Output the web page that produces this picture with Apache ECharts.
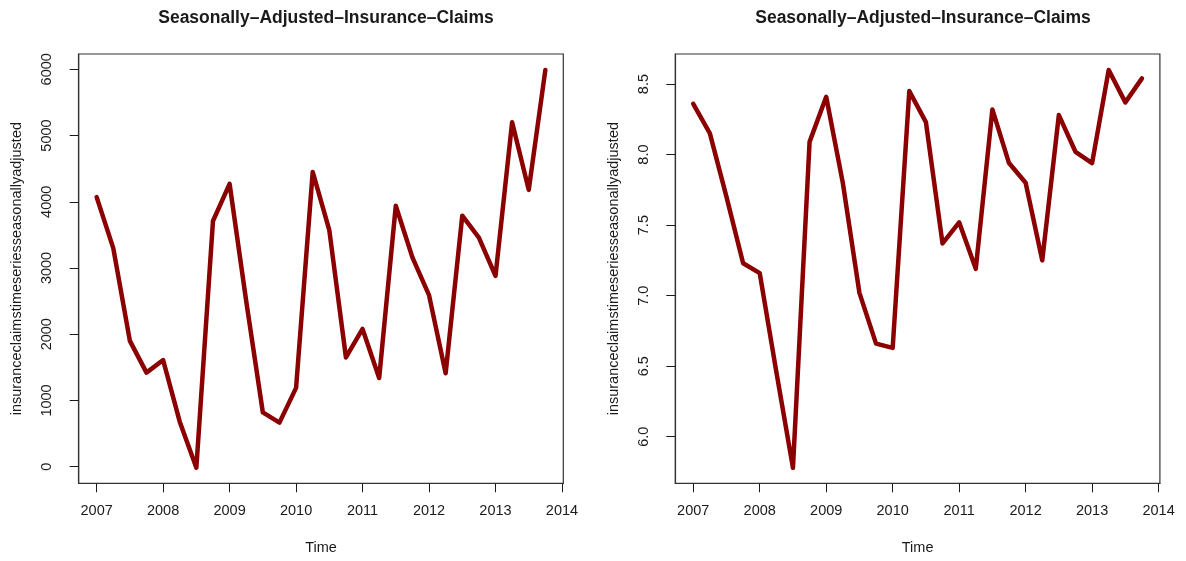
<!DOCTYPE html>
<html>
<head>
<meta charset="utf-8">
<script src="https://cdn.jsdelivr.net/npm/echarts@6/dist/echarts.min.js"></script>
<style>
  html, body { margin: 0; padding: 0; background: #fff; }
  #main { width: 1186px; height: 561px; }
</style>
</head>
<body>
<div id="main"></div>
<script>
// quarterly time points
var quarters = [2007, 2007.25, 2007.5, 2007.75, 2008, 2008.25, 2008.5, 2008.75,
    2009, 2009.25, 2009.5, 2009.75, 2010, 2010.25, 2010.5, 2010.75,
    2011, 2011.25, 2011.5, 2011.75, 2012, 2012.25, 2012.5, 2012.75,
    2013, 2013.25, 2013.5, 2013.75];
var claimsAdjusted = [4070, 3300, 1900, 1420, 1610, 680, -15, 3710,
    4270, 2500, 820, 665, 1190, 4450, 3570, 1650,
    2080, 1340, 3940, 3160, 2590, 1410, 3790, 3460,
    2880, 5200, 4180, 5990];
var logClaimsAdjusted = [8.36, 8.15, 7.70, 7.23, 7.16, 6.46, 5.78, 8.09,
    8.41, 7.80, 7.02, 6.66, 6.63, 8.45, 8.23, 7.37,
    7.52, 7.19, 8.32, 7.94, 7.80, 7.25, 8.28, 8.02,
    7.94, 8.60, 8.37, 8.54];
var yearTicks = [2007, 2008, 2009, 2010, 2011, 2012, 2013, 2014];
var leftTicks = [0, 1000, 2000, 3000, 4000, 5000, 6000];
var rightTicks = [6.0, 6.5, 7.0, 7.5, 8.0, 8.5];

var titleText = 'Seasonally\u2013Adjusted\u2013Insurance\u2013Claims';
var yName = 'insuranceclaimstimeseriesseasonallyadjusted';
var font = "'Liberation Sans', Arial, sans-serif";
var ink = '#1a1a1a';

function pairs(xs, ys) {
    var out = [];
    for (var i = 0; i < xs.length; i++) out.push([xs[i], ys[i]]);
    return out;
}

function xAxisFor(idx) {
    return {
        gridIndex: idx,
        type: 'value',
        min: 2006.73,
        max: 2014.02,
        splitLine: { show: false },
        axisLine: { show: true, onZero: false, lineStyle: { color: '#333', width: 1.2 } },
        axisTick: { show: true, customValues: yearTicks, length: 9, lineStyle: { color: ink, width: 1 } },
        axisLabel: {
            customValues: yearTicks, color: ink, fontSize: 14.5, fontFamily: font, margin: 20,
            formatter: function (v) { return String(v); }
        },
        name: 'Time',
        nameLocation: 'middle',
        nameGap: 57,
        nameTextStyle: { color: ink, fontSize: 14.5, fontFamily: font }
    };
}

function yAxisFor(idx, lo, hi, ticks, digits) {
    return {
        gridIndex: idx,
        type: 'value',
        min: lo,
        max: hi,
        splitLine: { show: false },
        axisLine: { show: true, onZero: false, lineStyle: { color: '#333', width: 1.2 } },
        axisTick: { show: true, customValues: ticks, length: 9, lineStyle: { color: ink, width: 1 } },
        axisLabel: {
            customValues: ticks, color: ink, fontSize: 14.5, fontFamily: font,
            rotate: 90, margin: 24,
            formatter: function (v) { return v.toFixed(digits); }
        },
        name: yName,
        nameLocation: 'middle',
        nameRotate: 90,
        nameGap: 54,
        nameTextStyle: { color: ink, fontSize: 14.5, fontFamily: font }
    };
}

var chart = echarts.init(document.getElementById('main'));
chart.setOption({
    backgroundColor: '#fff',
    animation: false,
    title: [
        { text: titleText, left: 321, top: 4, textAlign: 'center',
          textStyle: { fontSize: 17.5, fontWeight: 'bold', color: ink, fontFamily: font } },
        { text: titleText, left: 918, top: 4, textAlign: 'center',
          textStyle: { fontSize: 17.5, fontWeight: 'bold', color: ink, fontFamily: font } }
    ],
    grid: [
        { left: 78.7, top: 54, width: 484.6, height: 429.3, show: true, borderColor: '#333', borderWidth: 1.2, backgroundColor: 'transparent' },
        { left: 675.3, top: 54, width: 484.6, height: 429.3, show: true, borderColor: '#333', borderWidth: 1.2, backgroundColor: 'transparent' }
    ],
    xAxis: [xAxisFor(0), xAxisFor(1)],
    yAxis: [
        yAxisFor(0, -251, 6231, leftTicks, 0),
        yAxisFor(1, 5.67, 8.713, rightTicks, 1)
    ],
    series: [
        { type: 'line', xAxisIndex: 0, yAxisIndex: 0, data: pairs(quarters, claimsAdjusted),
          showSymbol: false, lineStyle: { color: '#8b0000', width: 4.5, join: 'round', cap: 'round' } },
        { type: 'line', xAxisIndex: 1, yAxisIndex: 1, data: pairs(quarters, logClaimsAdjusted),
          showSymbol: false, lineStyle: { color: '#8b0000', width: 4.5, join: 'round', cap: 'round' } }
    ]
});
</script>
</body>
</html>
